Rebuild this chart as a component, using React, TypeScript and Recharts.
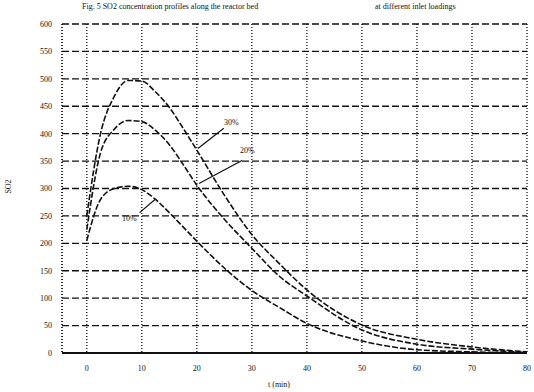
import { LineChart, Line, XAxis, YAxis, CartesianGrid, ReferenceLine } from 'recharts'

const hours = [0, 2.5, 5, 7.5, 10, 12.5, 15, 17.5, 20, 25, 30, 35, 40, 50, 60, 70, 80]
const upper = [250, 400, 468, 497, 496, 476, 448, 410, 370, 288, 216, 163, 115, 51, 25, 11, 2]
const middle = [225, 365, 408, 424, 422, 406, 380, 344, 306, 244, 191, 140, 104, 42, 16, 7, 1]
const lower = [205, 280, 300, 304, 298, 280, 256, 230, 204, 155, 114, 83, 54, 22, 6, 2, 0]

const xTicks = [0, 10, 20, 30, 40, 50, 60, 70, 80]
const yTicks = [0, 50, 100, 150, 200, 250, 300, 350, 400, 450, 500, 550, 600]

const data = hours.map((h, i) => ({ h, upper: upper[i], middle: middle[i], lower: lower[i] }))

const ink = '#111'
const tickStyle = { fontSize: 8, fill: ink, fontFamily: 'Liberation Serif' }

export default function App() {
  return (
    <div style={{ position: 'absolute', left: 0, top: 0, width: 534, height: 392, background: '#fff', fontFamily: 'Liberation Serif', color: ink }}>
      <LineChart width={534} height={392} data={data} margin={{ top: 24, right: 7, bottom: 14, left: 12 }}>
        <CartesianGrid vertical={false} stroke={ink} strokeDasharray="7 3" strokeWidth={1.3} />
        <CartesianGrid horizontal={false} stroke={ink} strokeDasharray="1 2" strokeWidth={1.3} />
        <XAxis
          dataKey="h"
          type="number"
          domain={[-4.5, 80]}
          ticks={xTicks}
          tick={tickStyle}
          tickLine={false}
          tickMargin={6}
          height={25}
          axisLine={{ stroke: ink, strokeWidth: 2 }}
        />
        <YAxis
          type="number"
          domain={[0, 600]}
          ticks={yTicks}
          tick={tickStyle}
          tickLine={false}
          tickMargin={4}
          width={50}
          axisLine={{ stroke: ink, strokeDasharray: '1 2', strokeWidth: 1.3 }}
        />
        <ReferenceLine segment={[{ x: 24.9, y: 410 }, { x: 20.2, y: 373 }]} stroke={ink} strokeWidth={1.2} />
        <ReferenceLine segment={[{ x: 28.2, y: 351 }, { x: 20.4, y: 309 }]} stroke={ink} strokeWidth={1.2} />
        <ReferenceLine segment={[{ x: 9.6, y: 256 }, { x: 12.4, y: 280 }]} stroke={ink} strokeWidth={1.2} />
        <Line dataKey="upper" type="monotone" stroke={ink} strokeWidth={1.6} strokeDasharray="6 2" dot={false} isAnimationActive={false} />
        <Line dataKey="middle" type="monotone" stroke={ink} strokeWidth={1.6} strokeDasharray="6 2" dot={false} isAnimationActive={false} />
        <Line dataKey="lower" type="monotone" stroke={ink} strokeWidth={1.6} strokeDasharray="6 2" dot={false} isAnimationActive={false} />
      </LineChart>
      <div style={{ position: 'absolute', left: 82, top: 2, fontSize: 8, whiteSpace: 'nowrap' }}>
        Fig. 5 SO2 concentration profiles along the reactor bed
      </div>
      <div style={{ position: 'absolute', left: 375, top: 2, fontSize: 8, whiteSpace: 'nowrap' }}>
        at different inlet loadings
      </div>
      <div style={{ position: 'absolute', left: 224, top: 118, fontSize: 8, color: ink }}>30%</div>
      <div style={{ position: 'absolute', left: 240, top: 146, fontSize: 8, color: ink }}>20%</div>
      <div style={{ position: 'absolute', left: 122, top: 214, fontSize: 8, color: ink }}>10%</div>
      <div style={{ position: 'absolute', left: 268, top: 380, fontSize: 8 }}>t (min)</div>
      <div style={{ position: 'absolute', left: 1, top: 182, fontSize: 8, transform: 'rotate(-90deg)', transformOrigin: 'center' }}>SO2</div>
    </div>
  )
}
